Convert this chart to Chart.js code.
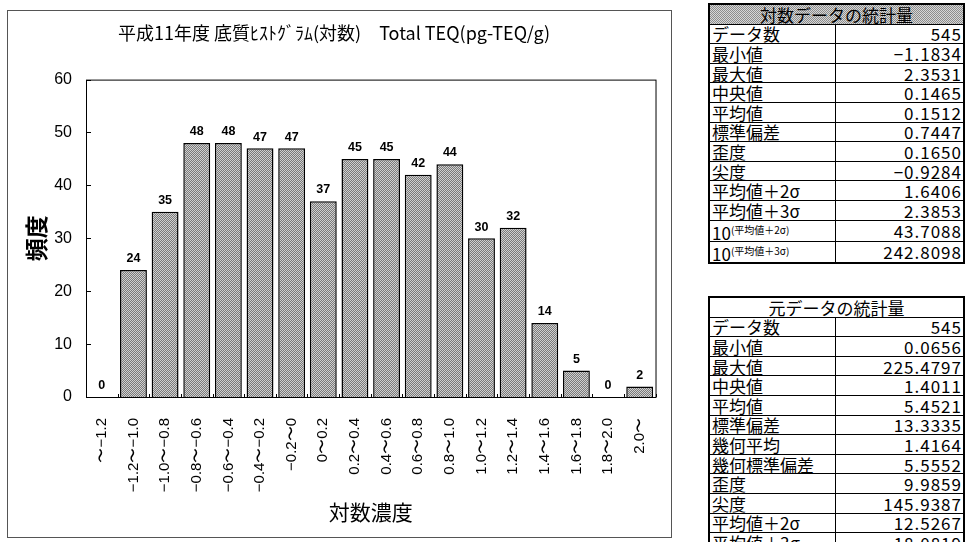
<!DOCTYPE html>
<html>
<head>
<meta charset="utf-8">
<script src="https://cdn.jsdelivr.net/npm/chart.js@4.4.0/dist/chart.umd.min.js"></script>
<style>
body { margin: 0; width: 967px; height: 542px; overflow: hidden; background: #fff; position: relative; font-family: "Noto Sans CJK JP", sans-serif; }
#box { position: absolute; left: 7px; top: 10px; width: 665px; height: 528px; border: 1px solid #555; box-sizing: border-box; }
#box canvas { position: absolute; left: 0; top: 0; }
table.stat { position: absolute; left: 708px; width: 257px; border-collapse: collapse; border: 2px solid #000; font-size: 17px; font-weight: 400; color: #000; }
table.stat td { border: 1px solid #000; height: 18.6px; padding: 0 2px; line-height: 17px; white-space: nowrap; overflow: hidden; }
table.stat td.v { text-align: right; width: 124px; letter-spacing: 1px; padding-right: 1px; }
table.stat td.h { text-align: center; }
#t1 { top: 3px; }
#t1 td.h { background: repeating-conic-gradient(#8c8c8c 0 25%, #d6d6d6 0 50%) 0 0 / 2px 2px; }
#t2 { top: 296px; }
sup { font-size: 10px; vertical-align: 6px; }
</style>
</head>
<body>
<div id="box"><canvas id="myChart" width="663" height="526"></canvas></div>
<table class="stat" id="t1"></table>
<table class="stat" id="t2"></table>
<script>
// histogram data
const labels = ['〜−1.2', '−1.2〜−1.0', '−1.0〜−0.8', '−0.8〜−0.6', '−0.6〜−0.4', '−0.4〜−0.2',
  '−0.2〜0', '0〜0.2', '0.2〜0.4', '0.4〜0.6', '0.6〜0.8', '0.8〜1.0', '1.0〜1.2', '1.2〜1.4',
  '1.4〜1.6', '1.6〜1.8', '1.8〜2.0', '2.0〜'];
const counts = [0, 24, 35, 48, 48, 47, 47, 37, 45, 45, 42, 44, 30, 32, 14, 5, 0, 2];
const yTicks = [0, 10, 20, 30, 40, 50, 60];

// statistics tables
const logNames = ['データ数', '最小値', '最大値', '中央値', '平均値', '標準偏差', '歪度', '尖度',
  '平均値＋2σ', '平均値＋3σ', '10<sup>(平均値＋2σ)</sup>', '10<sup>(平均値＋3σ)</sup>'];
const logValues = ['545', '−1.1834', '2.3531', '0.1465', '0.1512', '0.7447', '0.1650', '−0.9284',
  '1.6406', '2.3853', '43.7088', '242.8098'];
const rawNames = ['データ数', '最小値', '最大値', '中央値', '平均値', '標準偏差', '幾何平均', '幾何標準偏差',
  '歪度', '尖度', '平均値＋2σ', '平均値＋3σ'];
const rawValues = ['545', '0.0656', '225.4797', '1.4011', '5.4521', '13.3335', '1.4164', '5.5552',
  '9.9859', '145.9387', '12.5267', '18.0819'];

function fillTable(id, head, names, values) {
  let html = '<tr><td class="h" colspan="2">' + head + '</td></tr>';
  for (let i = 0; i < names.length; i++) {
    html += '<tr><td>' + names[i] + '</td><td class="v">' + values[i] + '</td></tr>';
  }
  document.getElementById(id).innerHTML = html;
}
fillTable('t1', '対数データの統計量', logNames, logValues);
fillTable('t2', '元データの統計量', rawNames, rawValues);

var ctx = document.getElementById('myChart').getContext('2d');

// checker fill like the printed bars
const pc = document.createElement('canvas');
pc.width = 2; pc.height = 2;
const p = pc.getContext('2d');
p.fillStyle = '#d0d0d0'; p.fillRect(0, 0, 2, 2);
p.fillStyle = '#7a7a7a'; p.fillRect(0, 0, 1, 1); p.fillRect(1, 1, 1, 1);
const barFill = ctx.createPattern(pc, 'repeat');

// frame, inward ticks and value labels
const decorations = {
  id: 'decorations',
  afterDatasetsDraw(chart) {
    const c = chart.ctx;
    const a = chart.chartArea;
    const xs = chart.scales.x, ys = chart.scales.y;
    c.save();
    c.strokeStyle = '#000';
    c.lineWidth = 1;
    c.strokeRect(a.left + 0.5, a.top + 0.5, a.right - a.left, a.bottom - a.top);
    c.beginPath();
    ys.ticks.forEach(t => {
      const y = Math.round(ys.getPixelForValue(t.value)) + 0.5;
      c.moveTo(a.left, y); c.lineTo(a.left + 5, y);
    });
    for (let i = 0; i <= labels.length; i++) {
      const x = Math.round(xs.getPixelForValue(i - 0.5)) + 0.5;
      c.moveTo(x, a.bottom); c.lineTo(x, a.bottom - 3);
    }
    c.stroke();
    const meta = chart.getDatasetMeta(0);
    c.fillStyle = '#000';
    c.font = 'bold 12.5px "Liberation Sans"';
    c.textAlign = 'center';
    c.textBaseline = 'bottom';
    meta.data.forEach((bar, i) => {
      c.fillText(String(counts[i]), bar.x, bar.y - 5);
    });
    c.restore();
  }
};

var myChart = new Chart(ctx, {
  type: 'bar',
  data: {
    labels: labels,
    datasets: [
      {
        label: '頻度',
        data: counts,
        backgroundColor: barFill,
        borderColor: '#000',
        borderWidth: 1.5,
        borderSkipped: 'bottom',
        barPercentage: 0.85,
        categoryPercentage: 1
      }
    ]
  },
  options: {
    responsive: false,
    animation: false,
    layout: { padding: { left: 0, right: 11, top: 0, bottom: 0 } },
    plugins: {
      legend: { display: false },
      tooltip: { enabled: false },
      title: {
        display: true,
        text: '平成11年度 底質ﾋｽﾄｸﾞﾗﾑ(対数)　Total TEQ(pg-TEQ/g)',
        color: '#000',
        font: { family: '"Noto Sans CJK JP"', size: 18, weight: 'normal' },
        padding: { top: 11, bottom: 36 }
      }
    },
    scales: {
      x: {
        grid: { display: false },
        border: { display: false },
        ticks: {
          color: '#000',
          font: { family: '"Liberation Sans"', size: 15 },
          minRotation: 90,
          maxRotation: 90,
          autoSkip: false,
          padding: 13
        },
        title: {
          display: true,
          text: '対数濃度',
          color: '#000',
          font: { family: '"Noto Sans CJK JP"', size: 21 },
          padding: { top: 0, bottom: 12 }
        },
        afterFit(s) { s.height = 140; }
      },
      y: {
        min: yTicks[0],
        max: yTicks[yTicks.length - 1],
        grid: { display: false },
        border: { display: false },
        ticks: {
          stepSize: yTicks[1] - yTicks[0],
          color: '#000',
          font: { family: '"Liberation Sans"', size: 16 },
          padding: 6
        },
        title: {
          display: true,
          text: '頻度',
          color: '#000',
          font: { family: '"Noto Sans CJK JP"', size: 23, weight: 'bold' },
          padding: { top: 14, bottom: 0 }
        },
        afterFit(s) { s.width = 78; }
      }
    }
  },
  plugins: [decorations]
});
</script>
</body>
</html>
